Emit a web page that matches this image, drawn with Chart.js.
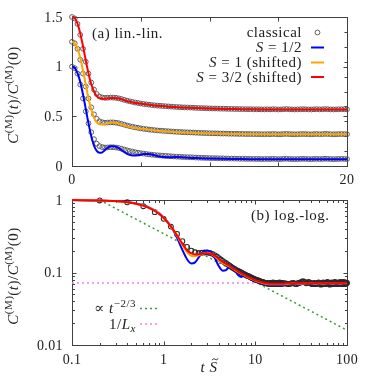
<!DOCTYPE html>
<html>
<head>
<meta charset="utf-8">
<script src="https://cdn.jsdelivr.net/npm/chart.js@4.4.1/dist/chart.umd.min.js"></script>
<style>
  html, body { margin: 0; padding: 0; background: #fff; }
  #wrap { position: relative; width: 374px; height: 378px; }
  canvas { position: absolute; left: 0; }
  #top { top: 0; }
  #bot { top: 190px; }
</style>
</head>
<body>
<div id="wrap">
  <canvas id="top" width="374" height="190"></canvas>
  <canvas id="bot" width="374" height="188"></canvas>
</div>
<script>
// classical data, sampled every 0.2 from t=0 to t=20
var classicalStep = 0.2;
var classicalVals = [
  1.0, 0.985, 0.93, 0.82, 0.68, 0.55, 0.43, 0.34, 0.27, 0.225,
  0.2, 0.19, 0.186, 0.187, 0.189, 0.189, 0.186, 0.181, 0.174, 0.166,
  0.158, 0.151, 0.145, 0.139, 0.134, 0.129, 0.125, 0.121, 0.117, 0.114,
  0.111, 0.108, 0.106, 0.104, 0.102, 0.1, 0.098, 0.096, 0.094, 0.093,
  0.091, 0.09, 0.089, 0.088, 0.087, 0.085, 0.084, 0.083, 0.082, 0.081,
  0.08, 0.079, 0.079, 0.078, 0.077, 0.077, 0.076, 0.075, 0.075, 0.074,
  0.074, 0.073, 0.073, 0.072, 0.072, 0.072, 0.071, 0.071, 0.071, 0.07,
  0.07, 0.071, 0.070, 0.072, 0.071, 0.069, 0.070, 0.072, 0.073, 0.071,
  0.070, 0.069, 0.070, 0.071, 0.072, 0.071, 0.070, 0.069, 0.071, 0.072,
  0.070, 0.071, 0.073, 0.072, 0.070, 0.069, 0.070, 0.071, 0.072, 0.071,
  0.070
];
// classical tail (only in log panel), t = 21 ... 100
var classicalTailT0 = 21;
var classicalTail = [
  0.071, 0.070, 0.069, 0.070, 0.071, 0.072, 0.070, 0.069, 0.071, 0.072,
  0.073, 0.074, 0.076, 0.075, 0.073, 0.071, 0.072, 0.074, 0.073, 0.071,
  0.070, 0.069, 0.071, 0.072, 0.070, 0.069, 0.070, 0.072, 0.073, 0.071,
  0.070, 0.068, 0.069, 0.071, 0.073, 0.072, 0.070, 0.069, 0.071, 0.072,
  0.074, 0.073, 0.071, 0.069, 0.068, 0.070, 0.072, 0.073, 0.071, 0.070,
  0.069, 0.071, 0.073, 0.074, 0.072, 0.070, 0.069, 0.070, 0.072, 0.073,
  0.071, 0.069, 0.070, 0.072, 0.074, 0.073, 0.071, 0.070, 0.069, 0.071,
  0.073, 0.074, 0.072, 0.070, 0.069, 0.071, 0.073, 0.072, 0.071, 0.072
];

// quantum curves
var quantumT = [0, 0.1, 0.2, 0.3, 0.4, 0.5, 0.6, 0.7, 0.8, 0.9,
  1.0, 1.2, 1.4, 1.6, 1.8, 2.0, 2.2, 2.4, 2.6, 2.8,
  3.0, 3.3, 3.6, 4.0, 4.4, 4.8, 5.2, 5.6, 6.0, 6.5,
  7, 7.5, 8, 9, 10, 11, 12, 13, 14, 16,
  18, 20, 23, 26, 30, 35, 40, 45, 50, 55,
  60, 65, 70, 75, 80, 85, 90, 95, 100];
var spinHalf = [1.0, 0.997, 0.985, 0.965, 0.935, 0.895, 0.845, 0.785, 0.72, 0.65,
  0.575, 0.43, 0.30, 0.205, 0.152, 0.133, 0.138, 0.160, 0.185, 0.198,
  0.200, 0.188, 0.160, 0.122, 0.106, 0.108, 0.120, 0.121, 0.108, 0.092,
  0.087, 0.090, 0.088, 0.080, 0.076, 0.073, 0.071, 0.069, 0.068, 0.068,
  0.067, 0.067, 0.069, 0.071, 0.068, 0.072, 0.070, 0.068, 0.071, 0.069,
  0.072, 0.070, 0.068, 0.071, 0.070, 0.069, 0.072, 0.070, 0.070];
var spinOne = [1.0, 0.997, 0.985, 0.963, 0.93, 0.89, 0.838, 0.778, 0.712, 0.642,
  0.57, 0.43, 0.318, 0.238, 0.19, 0.17, 0.167, 0.172, 0.18, 0.186,
  0.187, 0.181, 0.168, 0.149, 0.136, 0.128, 0.122, 0.116, 0.108, 0.101,
  0.096, 0.092, 0.088, 0.082, 0.077, 0.074, 0.072, 0.070, 0.069, 0.069,
  0.069, 0.069, 0.070, 0.071, 0.070, 0.071, 0.071, 0.070, 0.071, 0.070,
  0.071, 0.071, 0.070, 0.071, 0.071, 0.070, 0.071, 0.071, 0.071];
var spinThreeHalf = [1.0, 0.997, 0.986, 0.965, 0.932, 0.89, 0.835, 0.772, 0.705, 0.635,
  0.565, 0.432, 0.325, 0.25, 0.203, 0.183, 0.177, 0.178, 0.182, 0.185,
  0.185, 0.181, 0.171, 0.154, 0.140, 0.131, 0.124, 0.117, 0.110, 0.103,
  0.097, 0.093, 0.089, 0.083, 0.078, 0.075, 0.073, 0.071, 0.070, 0.070,
  0.070, 0.070, 0.071, 0.071, 0.071, 0.072, 0.071, 0.071, 0.072, 0.071,
  0.071, 0.072, 0.071, 0.071, 0.072, 0.071, 0.071, 0.072, 0.072];
var shiftOne = 0.25;
var shiftThreeHalf = 0.5;

// reference lines of panel (b)
var powerLawT = [0.2, 100];
var powerLawV = [1.0, 0.016];
var inverseLx = 0.0714;
var inverseLxT = [0.1, 100];

// ticks
var topXTicks = [0, 5, 10, 15, 20];
var topXLabels = ['0', '', '', '', '20'];
var topYTicks = [0, 0.5, 1, 1.5];
var topYLabels = ['0', '0.5', '1', '1.5'];
var topYRightTicks = [0.15, 0.3, 0.45, 0.6, 0.75, 0.9, 1.05, 1.2, 1.35];
var botXTicks = [0.1, 1, 10, 100];
var botXLabels = ['0.1', '1', '10', '100'];
var botYTicks = [0.01, 0.1, 1];
var botYLabels = ['0.01', '0.1', '1'];

var BLUE = '#0000ff', ORANGE = '#ffa500', RED = '#ff0000';
var GREEN = '#3c9a3c', PINK = '#ee82ee', CIRCLE = '#505050', CIRCLE_DARK = '#2a2a2a';
var SERIF = '"Liberation Serif", "DejaVu Serif", serif';
var FS = 14;   // tick labels
var TS = 15;   // titles, legend

function pts(xs, ys, shift) {
  return ys.map(function(v, i) { return {x: xs[i], y: v + (shift || 0)}; });
}
function classicalPts(shift, withTail) {
  var out = classicalVals.map(function(v, i) { return {x: i * classicalStep, y: v + shift}; });
  if (withTail) {
    classicalTail.forEach(function(v, i) { out.push({x: classicalTailT0 + i, y: v}); });
  }
  return out;
}

// rich text: parts = [{t, i(italic), sup, sub, tilde}]
function partFont(p, size) {
  var s = (p.sup || p.sub) ? Math.round(size * 0.7) : size;
  return (p.i ? 'italic ' : '') + s + 'px ' + SERIF;
}
function richWidth(ctx, parts, size) {
  var w = 0;
  parts.forEach(function(p) { ctx.font = partFont(p, size); w += ctx.measureText(p.t).width; });
  return w;
}
function drawRich(ctx, parts, x, y, size, align) {
  ctx.letterSpacing = '0.5px';
  var w = richWidth(ctx, parts, size);
  var cx = align === 'right' ? x - w : (align === 'center' ? x - w / 2 : x);
  ctx.textAlign = 'left';
  ctx.textBaseline = 'alphabetic';
  parts.forEach(function(p) {
    ctx.font = partFont(p, size);
    var dy = p.sup ? -size * 0.42 : (p.sub ? size * 0.22 : 0);
    ctx.fillText(p.t, cx, y + dy);
    var pw = ctx.measureText(p.t).width;
    if (p.tilde) {
      // small wave above the letter
      var x0 = cx + pw / 2 - 1.5, y0 = y - size * 0.85;
      ctx.save();
      ctx.strokeStyle = ctx.fillStyle; ctx.lineWidth = 0.9;
      ctx.beginPath();
      ctx.moveTo(x0, y0 + 0.8);
      ctx.quadraticCurveTo(x0 + 1.6, y0 - 1.4, x0 + 3.2, y0);
      ctx.quadraticCurveTo(x0 + 4.8, y0 + 1.4, x0 + 6.4, y0 - 0.8);
      ctx.stroke();
      ctx.restore();
    }
    cx += pw;
  });
  ctx.letterSpacing = '0px';
}
function yTitle(ctx, cx, cy) {
  var parts = [{t: 'C', i: 1}, {t: '(M)', sup: 1}, {t: '('}, {t: 't', i: 1}, {t: ')/'},
               {t: 'C', i: 1}, {t: '(M)', sup: 1}, {t: '(0)'}];
  ctx.save();
  ctx.translate(cx, cy);
  ctx.rotate(-Math.PI / 2);
  ctx.fillStyle = '#222';
  drawRich(ctx, parts, 0, TS * 0.35, TS, 'center');
  ctx.restore();
}

function logMinors(lo, hi) {
  var out = [];
  for (var d = lo; d < hi * 0.999; d *= 10) {
    for (var k = 2; k <= 9; k++) out.push(k * d);
  }
  return out;
}

function drawFrame(chart, spec) {
  var ctx = chart.ctx, a = chart.chartArea, xs = chart.scales.x, ys = chart.scales.y;
  var L = Math.round(a.left) + 0.5, R = Math.round(a.right) + 0.5;
  var T = Math.round(a.top) + 0.5, B = Math.round(a.bottom) + 0.5;
  ctx.save();
  ctx.strokeStyle = '#404040';
  ctx.lineWidth = 1;
  ctx.beginPath();
  function xt(v, len) {
    var p = Math.round(xs.getPixelForValue(v)) + 0.5;
    ctx.moveTo(p, B); ctx.lineTo(p, B - len);
    ctx.moveTo(p, T); ctx.lineTo(p, T + len);
  }
  function yt(v, len, left, right) {
    var p = Math.round(ys.getPixelForValue(v)) + 0.5;
    if (left) { ctx.moveTo(L, p); ctx.lineTo(L + len, p); }
    if (right) { ctx.moveTo(R, p); ctx.lineTo(R - len, p); }
  }
  spec.xMajor.forEach(function(v) { xt(v, 4); });
  (spec.xMinor || []).forEach(function(v) { xt(v, 2.5); });
  spec.yMajor.forEach(function(v) { yt(v, 4, true, true); });
  (spec.yMinor || []).forEach(function(v) { yt(v, 2.5, true, true); });
  (spec.yRight || []).forEach(function(v) { yt(v, 3, false, true); });
  ctx.stroke();
  ctx.strokeRect(L, T, R - L, B - T);
  ctx.restore();
}

function drawLabels(chart, spec) {
  var ctx = chart.ctx, a = chart.chartArea, xs = chart.scales.x, ys = chart.scales.y;
  ctx.save();
  ctx.fillStyle = '#222';
  ctx.letterSpacing = '0.4px';
  ctx.font = FS + 'px ' + SERIF;
  ctx.textBaseline = 'alphabetic';
  ctx.textAlign = 'center';
  spec.xMajor.forEach(function(v, i) {
    if (spec.xLabels[i]) ctx.fillText(spec.xLabels[i], xs.getPixelForValue(v), a.bottom + spec.xLabelDy);
  });
  ctx.textAlign = 'right';
  spec.yMajor.forEach(function(v, i) {
    ctx.fillText(spec.yLabels[i], a.left - 9, ys.getPixelForValue(v) + 4.5);
  });
  ctx.letterSpacing = '0px';
  ctx.restore();
}

var topPlugin = {
  id: 'topFrame',
  beforeDatasetsDraw: function(chart) {
    drawFrame(chart, {xMajor: topXTicks, yMajor: topYTicks, yRight: topYRightTicks});
  },
  afterDraw: function(chart) {
    var ctx = chart.ctx;
    drawLabels(chart, {xMajor: topXTicks, xLabels: topXLabels, yMajor: topYTicks,
                       yLabels: topYLabels, xLabelDy: 18});
    yTitle(ctx, 13, 95);
    ctx.save();
    ctx.fillStyle = '#222';
    drawRich(ctx, [{t: '(a) lin.-lin.'}], 92, 38, TS, 'left');
    // legend
    var rx = 302, sx0 = 311, sx1 = 324;
    var rows = [
      {y: 32.5, parts: [{t: 'classical'}], kind: 'circle'},
      {y: 47.5, parts: [{t: 'S', i: 1}, {t: ' = 1/2'}], color: BLUE},
      {y: 62.5, parts: [{t: 'S', i: 1}, {t: ' = 1 (shifted)'}], color: ORANGE},
      {y: 77, parts: [{t: 'S', i: 1}, {t: ' = 3/2 (shifted)'}], color: RED}
    ];
    rows.forEach(function(r) {
      ctx.fillStyle = '#222';
      drawRich(ctx, r.parts, rx, r.y + 4.8, TS, 'right');
      if (r.kind === 'circle') {
        ctx.strokeStyle = CIRCLE; ctx.lineWidth = 0.9;
        ctx.beginPath(); ctx.arc((sx0 + sx1) / 2, r.y, 2.4, 0, Math.PI * 2); ctx.stroke();
      } else {
        ctx.strokeStyle = r.color; ctx.lineWidth = 2;
        ctx.beginPath(); ctx.moveTo(sx0, r.y); ctx.lineTo(sx1, r.y); ctx.stroke();
      }
    });
    ctx.restore();
  }
};

var botPlugin = {
  id: 'botFrame',
  beforeDatasetsDraw: function(chart) {
    drawFrame(chart, {xMajor: botXTicks, xMinor: logMinors(0.1, 100),
                      yMajor: botYTicks, yMinor: logMinors(0.01, 1)});
  },
  afterDraw: function(chart) {
    var ctx = chart.ctx;
    drawLabels(chart, {xMajor: botXTicks, xLabels: botXLabels, yMajor: botYTicks,
                       yLabels: botYLabels, xLabelDy: 19});
    yTitle(ctx, 13, 86);
    ctx.save();
    ctx.fillStyle = '#222';
    drawRich(ctx, [{t: 't', i: 1}, {t: ' '}, {t: 'S', i: 1, tilde: 1}], 209, 182, TS, 'center');
    drawRich(ctx, [{t: '(b) log.-log.'}], 251, 30, TS, 'left');
    // legend
    var rx = 136, sx0 = 140, sx1 = 160;
    var rows = [
      {y: 118.5, parts: [{t: '\u221d '}, {t: 't', i: 1}, {t: '\u22122/3', sup: 1}], color: GREEN},
      {y: 134, parts: [{t: '1/'}, {t: 'L', i: 1}, {t: 'x', i: 1, sub: 1}], color: PINK}
    ];
    rows.forEach(function(r) {
      ctx.fillStyle = '#222';
      drawRich(ctx, r.parts, rx, r.y + 4.8, TS, 'right');
      ctx.strokeStyle = r.color; ctx.lineWidth = 1.5; ctx.setLineDash([2, 3]);
      ctx.beginPath(); ctx.moveTo(sx0, r.y); ctx.lineTo(sx1, r.y); ctx.stroke();
    });
    ctx.restore();
  }
};

function lineSet(data, color, order) {
  return {data: data, showLine: true, borderColor: color, borderWidth: 2, pointRadius: 0,
          cubicInterpolationMode: 'monotone', clip: false, order: order};
}
function circleSet(data, order, color, width) {
  return {data: data, showLine: false, pointRadius: 2.4, pointBorderWidth: width,
          pointBorderColor: color, pointBackgroundColor: 'rgba(0,0,0,0)',
          borderColor: color, backgroundColor: 'rgba(0,0,0,0)', clip: false, order: order};
}
function dotted(data, color, order) {
  return {data: data, showLine: true, borderColor: color, borderWidth: 1.5, borderDash: [2, 3],
          pointRadius: 0, tension: 0, order: order};
}
var baseOptions = function(pad, xScale, yScale) {
  return {
    responsive: false, animation: false, devicePixelRatio: 1,
    layout: {padding: pad},
    plugins: {legend: {display: false}, tooltip: {enabled: false}},
    scales: {x: xScale, y: yScale}
  };
};

new Chart(document.getElementById('top'), {
  type: 'scatter',
  data: {
    datasets: [
      lineSet(pts(quantumT, spinThreeHalf, shiftThreeHalf).filter(function(p) { return p.x <= 20; }), RED, 1),
      lineSet(pts(quantumT, spinOne, shiftOne).filter(function(p) { return p.x <= 20; }), ORANGE, 2),
      lineSet(pts(quantumT, spinHalf).filter(function(p) { return p.x <= 20; }), BLUE, 3),
      circleSet(classicalPts(shiftThreeHalf, false), 4, CIRCLE, 0.9),
      circleSet(classicalPts(shiftOne, false), 5, CIRCLE, 0.9),
      circleSet(classicalPts(0, false), 6, CIRCLE, 0.9)
    ]
  },
  options: baseOptions({left: 72, right: 27, top: 17, bottom: 24},
    {type: 'linear', display: false, min: 0, max: 20},
    {type: 'linear', display: false, min: 0, max: 1.5}),
  plugins: [topPlugin]
});

new Chart(document.getElementById('bot'), {
  type: 'scatter',
  data: {
    datasets: [
      lineSet(pts(quantumT, spinThreeHalf).filter(function(p) { return p.x >= 0.1; }), RED, 1),
      lineSet(pts(quantumT, spinOne).filter(function(p) { return p.x >= 0.1; }), ORANGE, 2),
      lineSet(pts(quantumT, spinHalf).filter(function(p) { return p.x >= 0.1; }), BLUE, 3),
      circleSet(classicalPts(0, true).filter(function(p) { return p.x > 0; }), 4, CIRCLE_DARK, 1.05),
      dotted(pts(powerLawT, powerLawV), GREEN, 5),
      dotted(inverseLxT.map(function(t) { return {x: t, y: inverseLx}; }), PINK, 6)
    ]
  },
  options: baseOptions({left: 72, right: 27, top: 10, bottom: 33},
    {type: 'logarithmic', display: false, min: 0.1, max: 100},
    {type: 'logarithmic', display: false, min: 0.01, max: 1}),
  plugins: [botPlugin]
});
</script>
</body>
</html>
